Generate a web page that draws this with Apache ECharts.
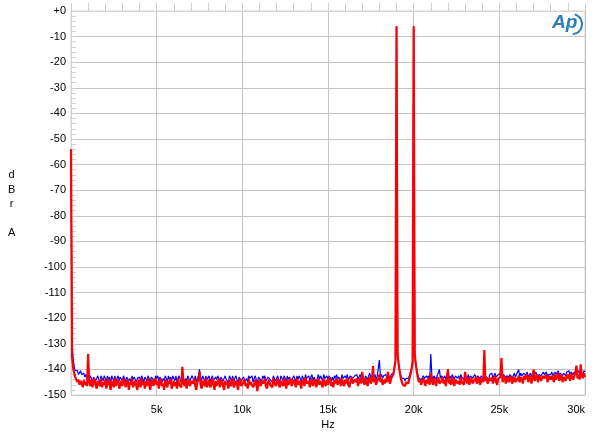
<!DOCTYPE html>
<html>
<head>
<meta charset="utf-8">
<script src="https://cdn.jsdelivr.net/npm/echarts@6/dist/echarts.min.js"></script>
<style>
html,body{margin:0;padding:0;background:#fff;}
#chart{width:600px;height:439px;}
</style>
</head>
<body>
<div id="chart"></div>
<script>
// FFT bin spacing (Hz) of the sampled spectrum below (16 bins per kHz row)
const BIN_HZ = 62.5;

const xTicks = [5000, 10000, 15000, 20000, 25000, 30000];
const xTickLabels = ['5k', '10k', '15k', '20k', '25k', '30k'];
const yTickLabels = ['+0','-10','-20','-30','-40','-50','-60','-70','-80','-90','-100','-110','-120','-130','-140','-150'];

// Red trace (dBr A); each line = 1 kHz
const redDb = [
-54, -135, -139.5, -141.5, -143, -144, -145, -144, -146, -144.5, -145.5, -147, -144, -146, -145, -146.5,
-134, -145, -146.5, -144, -147, -145.5, -143.5, -146, -147.5, -144.5, -145, -146.5, -143.5, -147, -145, -146,
-144, -147.5, -145.5, -143.5, -146, -148, -144.5, -145.5, -147, -143.5, -146.5, -145, -144, -147.5, -146, -144.5,
-146.5, -143.5, -145, -147, -145.5, -144, -148, -145, -146, -143.5, -147, -145.5, -144.5, -146.5, -148, -144,
-145.5, -147, -143.5, -146, -145, -147.5, -144.5, -146.5, -143.5, -145.5, -148, -145, -144, -146.5, -147, -143.5,
-146, -144.5, -147.5, -145, -143.5, -146.5, -145.5, -148, -144, -146, -147, -144.5, -145.5, -143.5, -147.5, -146,
-144.5, -146.5, -145, -147.5, -143.5, -146, -145.5, -147, -139, -145, -146.5, -144, -147.5, -145.5, -144, -146.5,
-147, -144.5, -145.5, -143.5, -146.5, -148, -145, -144, -141, -146, -147.5, -144.5, -145, -146.5, -143.5, -147,
-145.5, -144, -147, -146, -143.5, -145.5, -148, -144.5, -146.5, -145, -143.5, -147, -145.5, -144, -146.5, -148,
-144.5, -146, -145, -147.5, -144, -146.5, -145.5, -143.5, -147, -146, -144.5, -145.5, -148, -145, -143.5, -146.5,
-147, -145, -144, -146.5, -145.5, -147.5, -143.5, -146, -145, -144.5, -147, -146, -144, -145.5, -148.5, -145,
-144, -146.5, -147, -144.5, -145.5, -143.5, -146.5, -147.5, -145, -144, -146, -145.5, -147, -143.5, -145, -146.5,
-145.5, -143.5, -146, -147, -144.5, -145, -146.5, -143.5, -145.5, -147.5, -144, -146, -145, -143.5, -146.5, -147,
-144, -145.5, -147, -143.5, -146, -144.5, -145.5, -147.5, -144, -145, -146.5, -143, -145.5, -146, -144.5, -147,
-145, -143.5, -146.5, -145, -144, -147, -145.5, -143.5, -146, -144.5, -145, -147, -143.5, -145.5, -146.5, -144,
-146, -144.5, -143, -146.5, -145, -147, -144, -145.5, -143.5, -146, -145, -144, -146.5, -143.5, -145.5, -146.5,
-144, -145.5, -143.5, -146, -147, -144.5, -143, -145.5, -146, -144, -145, -143.5, -146.5, -145, -143.5, -145.5,
-141, -144.5, -146, -143.5, -145, -146.5, -144, -143, -145.5, -144.5, -138.7, -145, -143.5, -146, -144.5, -143.5,
-142, -145, -143.5, -146, -144, -145.5, -143.5, -145, -141, -144.5, -145.5, -143.5, -144, -142, -139.5, -136.5,
-6, -134, -138, -141, -143.5, -145, -146, -145.5, -146.5, -145, -144.5, -145.5, -143.5, -142, -140, -137,
-6, -134, -138, -141, -143.5, -145, -144, -146, -145.5, -143.5, -145, -146.5, -144, -145.5, -143.5, -146,
-141.5, -144.5, -146, -143.5, -145, -146.5, -144, -143, -145.5, -146, -144.5, -143, -145.5, -144, -146.5, -143.5,
-140, -145.5, -144, -146, -143, -145, -146.5, -144, -143.5, -145.5, -144.5, -146, -143, -145, -144.5, -146,
-141, -144, -145.5, -143, -146, -144.5, -143.5, -145.5, -146, -144, -143, -145.5, -144.5, -143, -146, -144.5,
-143.5, -145, -132.4, -144.5, -143, -145.5, -146, -143.5, -144.5, -143, -145.5, -144, -142.5, -145, -146, -143.5,
-144, -143, -135.5, -145, -143.5, -142.5, -145.5, -144, -143, -145, -143.5, -142.5, -145.5, -144.5, -143, -145,
-143.5, -144.5, -142.5, -145, -143, -144, -145.5, -142.5, -144, -143.5, -142, -145, -144, -142.5, -145.5, -143,
-140, -144.5, -143, -142, -145, -143.5, -142.5, -144.5, -145, -142.5, -143.5, -144, -142, -145, -143.5, -142.5,
-144, -142.5, -143.5, -145, -142, -144, -143, -141.5, -144.5, -143.5, -142, -145, -143, -142.5, -144.5, -142,
-143.5, -142, -144.5, -141.5, -143, -144, -142.5, -141.5, -138.5, -143.5, -142, -144, -138, -142.5, -143.5, -141.5,
-143
];

// Blue trace (dBr A), same bins
const blueDb = [
-54, -130, -136, -139, -140.5, -141, -140.5, -142, -141.5, -140.5, -142, -142.5, -141.5, -143, -142, -143.5,
-143, -144, -142.5, -143.5, -145, -143, -142.5, -144.5, -143.5, -142.5, -144, -145, -142.5, -143.5, -144.5, -142.5,
-143.5, -145, -142.5, -144, -143, -145.5, -142.5, -143.5, -144.5, -142.5, -145, -143.5, -142.5, -144.5, -143, -142.5,
-144.5, -142.5, -143.5, -145, -143, -142.5, -144.5, -143.5, -145, -142.5, -144, -143, -142.5, -145, -143.5, -144,
-143, -144.5, -142.5, -143.5, -145, -143, -142.5, -144.5, -142.5, -143.5, -145, -143, -142.5, -144, -145.5, -142.5,
-143.5, -142.5, -144.5, -143, -142.5, -145, -143.5, -144.5, -142.5, -143.5, -145, -142.5, -144, -143, -144.5, -142.5,
-143, -144.5, -142.5, -145, -143.5, -142.5, -144, -145, -143, -142.5, -144.5, -143.5, -145, -142.5, -143.5, -144.5,
-145, -142.5, -143.5, -144.5, -142.5, -145, -143.5, -142.5, -140, -143, -144.5, -142.5, -143.5, -145, -142.5, -144,
-143.5, -142.5, -145, -143.5, -142.5, -144.5, -145, -143, -144, -142.5, -143.5, -145, -143, -142.5, -144.5, -143.5,
-142.5, -144, -143.5, -145, -142.5, -143.5, -144.5, -142.5, -145, -143.5, -142.5, -144, -145, -143, -142.5, -144.5,
-144.5, -143, -142.5, -144.5, -143.5, -145, -142.5, -143.5, -144, -142.5, -145, -143.5, -142.5, -144, -145.5, -143,
-142.5, -144, -145, -142.5, -143.5, -142.5, -144.5, -145, -143, -142.5, -144, -143.5, -145, -142.5, -143.5, -144.5,
-143.5, -142.5, -144, -145, -142.5, -143.5, -144.5, -142.5, -143.5, -145, -142.5, -144, -143, -142.5, -144.5, -145,
-142.5, -143.5, -145, -142.5, -144, -142.5, -143.5, -145, -142.5, -143, -144.5, -142, -143.5, -144, -142.5, -144.5,
-143, -142, -144.5, -143, -142.5, -145, -143.5, -142, -144, -142.5, -143.5, -144.5, -142, -143.5, -144, -142.5,
-144, -142.5, -142, -144.5, -143, -144.5, -142.5, -143.5, -142, -144, -143, -142.5, -144.5, -142, -143.5, -144,
-142.5, -143.5, -142, -144, -144.5, -142.5, -142, -143.5, -144, -142.5, -143, -142, -144, -143, -142, -143.5,
-142.5, -142, -144, -142.5, -143, -144, -142.5, -141.5, -143.5, -142.5, -142, -143, -142, -144, -142.5, -142,
-136.3, -143, -142, -143.5, -142.5, -143, -142, -143.5, -143, -142.5, -143.5, -142, -142.5, -141.5, -139.5, -137,
-6, -134.5, -138, -140.5, -142.5, -143.5, -144, -143.5, -144.5, -143.5, -143, -143.5, -142.5, -141, -139.5, -137,
-6, -134.5, -138, -140.5, -142.5, -143.5, -143, -144, -143.5, -142.5, -143.5, -144, -142.5, -143.5, -142.5, -144,
-134, -142.5, -144, -142.5, -143, -144, -142.5, -142, -140, -143.5, -142.5, -142, -143.5, -142.5, -144, -142,
-142.5, -143.5, -142.5, -144, -142, -143, -144, -142.5, -142, -143.5, -142.5, -144, -142, -143, -142.5, -144,
-142.5, -142, -143.5, -142, -144, -142.5, -142, -143.5, -144, -142, -142.5, -143.5, -142.5, -142, -144, -142.5,
-142, -143.5, -142.5, -142, -143, -143.5, -144, -142, -142.5, -141.5, -143.5, -142.5, -141.5, -143, -143.5, -142,
-142.5, -141.5, -143, -142.5, -142, -141.5, -143.5, -142.5, -142, -143, -142, -141.5, -143.5, -142.5, -141.5, -143,
-142, -142.5, -140, -143, -141.5, -142.5, -143, -141.5, -142, -142.5, -141, -143, -142.5, -141.5, -143, -141.5,
-142.5, -142, -141, -141.5, -143, -142, -141.5, -142.5, -143, -141, -142, -142.5, -141, -143, -142, -141.5,
-142, -141, -142.5, -143, -141, -142, -141.5, -140.5, -142.5, -141.5, -141, -142.5, -141.5, -141, -142.5, -141,
-141.5, -140.5, -142.5, -141, -141.5, -142, -141, -140.5, -141.5, -141.5, -140.5, -142, -141, -141.5, -142, -140.5,
-141
];

const toPairs = arr => arr.map((v, i) => [i * BIN_HZ, v]);

const chart = echarts.init(document.getElementById('chart'), null, {renderer: 'canvas'});
const FONT = 'Liberation Sans, Arial, sans-serif';

chart.setOption({
  animation: false,
  backgroundColor: '#ffffff',
  grid: { left: 71, right: 15, top: 11, bottom: 44, show: true, borderColor: '#d4d4d4', borderWidth: 1 },
  xAxis: {
    type: 'value', min: 0, max: 30000, interval: 5000,
    name: 'Hz', nameLocation: 'middle', nameGap: 24,
    nameTextStyle: { fontFamily: FONT, fontSize: 11, color: '#000' },
    axisLine: { show: true, lineStyle: { color: '#d4d4d4' } },
    axisTick: { show: true, inside: true, length: 8, lineStyle: { color: '#cfcfcf' } },
    minorTick: { show: true, splitNumber: 5, length: 8, lineStyle: { color: '#cfcfcf' } },
    splitLine: { show: true, lineStyle: { color: '#c4c4c4', width: 1 } },
    axisLabel: {
      fontFamily: FONT, fontSize: 11, color: '#000', margin: 9,
      showMinLabel: false, alignMaxLabel: 'right',
      formatter: v => { const k = xTicks.indexOf(v); return k >= 0 ? xTickLabels[k] : ''; }
    }
  },
  yAxis: {
    type: 'value', min: -150, max: 0, interval: 10,
    axisLine: { show: true, lineStyle: { color: '#d4d4d4' } },
    axisTick: { show: true, inside: true, length: 5, lineStyle: { color: '#cfcfcf' } },
    minorTick: { show: true, splitNumber: 5, length: 5, lineStyle: { color: '#cfcfcf' } },
    splitLine: { show: true, lineStyle: { color: '#c4c4c4', width: 1 } },
    axisLabel: {
      fontFamily: FONT, fontSize: 11, color: '#000', margin: 5,
      formatter: v => yTickLabels[Math.round(-v / 10)]
    }
  },
  graphic: [
    { type: 'text', left: 8, top: 168, style: { text: 'd\nB\nr\n\nA', fontFamily: FONT, fontSize: 11, lineHeight: 14.4, fill: '#000', textAlign: 'center', x: 6 } },
    { type: 'text', left: 552, top: 13, style: { text: 'Ap', fontFamily: FONT, fontSize: 19, fontStyle: 'italic', fontWeight: 'bold', fill: '#2a7db8' } },
    { type: 'arc', shape: { cx: 572, cy: 24, r: 10, startAngle: -1.3, endAngle: 1.5 }, style: { stroke: '#2a7db8', lineWidth: 2, fill: null } }
  ],
  series: [
    { type: 'line', data: toPairs(blueDb), showSymbol: false, lineStyle: { color: '#0000ff', width: 1.2 }, z: 2 },
    { type: 'line', data: toPairs(redDb), showSymbol: false, lineStyle: { color: '#ff0000', width: 2.2 }, z: 3 }
  ]
});
</script>
</body>
</html>
